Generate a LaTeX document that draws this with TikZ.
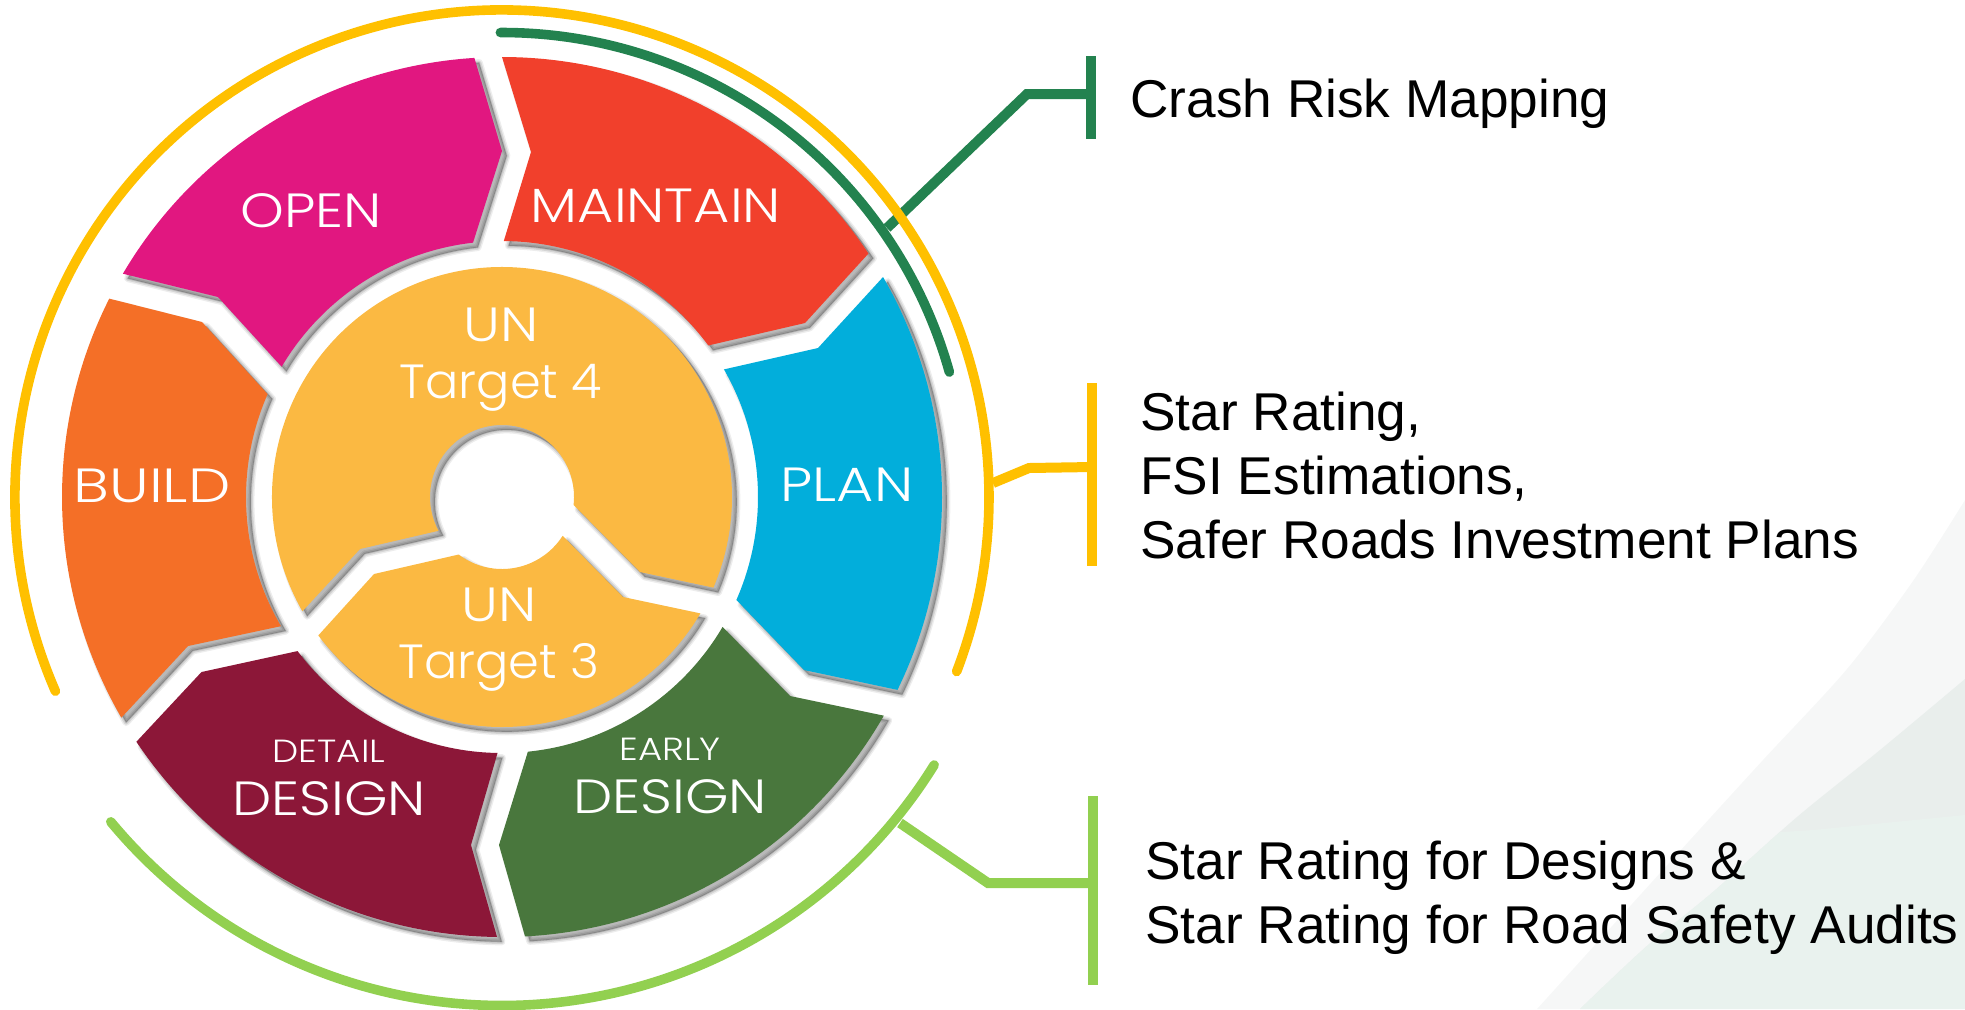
\documentclass[tikz,border=0pt]{standalone}
\usepackage{fontspec}
\setmainfont{Liberation Sans}
\newfontfamily\mont[FakeStretch=1.16]{Poppins Light}
\newfontfamily\montwide[FakeStretch=1.25]{Poppins Light}
\newfontfamily\montmid[FakeStretch=1.19]{Poppins Light}
\newfontfamily\monttarget[FakeStretch=1.03]{Poppins Light}
\usetikzlibrary{calc}
\definecolor{cYel}{HTML}{FFC000}
\definecolor{cDk}{HTML}{23824F}
\definecolor{cLime}{HTML}{92D050}
\definecolor{cMaintain}{HTML}{F1402C}
\definecolor{cPlan}{HTML}{02AEDB}
\definecolor{cEarly}{HTML}{49773D}
\definecolor{cDetail}{HTML}{8C1738}
\definecolor{cBuild}{HTML}{F46F27}
\definecolor{cOpen}{HTML}{E11780}
\definecolor{cUN}{HTML}{FBB942}
\definecolor{cBgA}{HTML}{F6F7F7}
\definecolor{cBgB}{HTML}{E9EEEC}
\definecolor{cBgC}{HTML}{E9F2EE}
\tikzset{
  softshadow/.style={
    preaction={draw=black,line join=round,line width=3.6pt,fill=black,opacity=.07,transform canvas={shift={(2.4pt,-2.4pt)}}},
    preaction={draw=black,line join=round,line width=2.2pt,fill=black,opacity=.10,transform canvas={shift={(2.4pt,-2.4pt)}}},
    preaction={draw=black,line join=round,line width=.8pt,fill=black,opacity=.13,transform canvas={shift={(2.4pt,-2.4pt)}}}},
  seg/.style={softshadow,fill=#1},
  ringline/.style={draw=#1,line width=4.8pt,line cap=round},
  linkline/.style={draw=#1,line width=5pt,line join=miter},
  barline/.style={draw=#1,line width=5pt},
  lab/.style={text=white,font=\mont\fontsize{24}{24}\selectfont,anchor=base,inner sep=0pt},
  note/.style={text=black,font=\fontsize{26.6}{32}\selectfont,anchor=base west,inner sep=0pt,align=left},
}
\begin{document}
\begin{tikzpicture}[x=0.5pt,y=-0.5pt]
\useasboundingbox (0,0) rectangle (1965,1009);
\coordinate (C) at (502,497);
% background shapes
\fill[cBgA] plot[smooth] coordinates {(1965,500) (1913,581) (1847,669) (1763,760) (1680,851) (1613,925) (1537,1009)} -- (1965,1009) -- cycle;
\begin{scope}
\clip plot[smooth] coordinates {(1965,679) (1880,750) (1797,817) (1713,892) (1647,946) (1580,1009)} -- (1965,1009) -- cycle;
\fill[cBgB] (1500,600) rectangle (1965,1009);
\fill[cBgC] (1500,850) -- (1813,830) -- (1965,815) -- (1965,1009) -- (1500,1009) -- cycle;
\end{scope}
% segments
\path[seg=cMaintain] ($(C)+(-90:440)$) arc[start angle=-90,end angle=-33.6,radius=440] -- (805,323) -- ($(C)+(-36.3:256)$) arc[start angle=-36.3,end angle=-89.6,radius=256] -- (531,152) -- cycle;
\path[seg=cPlan] ($(C)+(-30:440)$) arc[start angle=-30,end angle=26,radius=440] -- (804,670) -- ($(C)+(23.7:256)$) arc[start angle=23.7,end angle=-29.9,radius=256] -- (818,348) -- cycle;
\path[seg=cEarly] ($(C)+(29.8:440)$) arc[start angle=29.8,end angle=87,radius=440] -- (499,845) -- ($(C)+(84.2:256)$) arc[start angle=84.2,end angle=30.5,radius=256] -- (790,696) -- cycle;
\path[seg=cDetail] ($(C)+(90.65:440)$) arc[start angle=90.65,end angle=146.2,radius=440] -- (201.5,672) -- ($(C)+(143:256)$) arc[start angle=143,end angle=91,radius=256] -- (471,845) -- cycle;
\path[seg=cBuild] ($(C)+(149.9:440)$) arc[start angle=149.9,end angle=206.8,radius=440] -- (202,322) -- ($(C)+(203.7:256)$) arc[start angle=203.7,end angle=149.7,radius=256] -- (188,646) -- cycle;
\path[seg=cOpen] ($(C)+(210.5:440)$) arc[start angle=210.5,end angle=266.4,radius=440] -- (502,151) -- ($(C)+(263.5:256)$) arc[start angle=263.5,end angle=210.6,radius=256] -- (218,297) -- cycle;
\path[seg=cUN] ($(C)+(150.2:230)$) arc[start angle=150.2,end angle=383.2,radius=230] -- (640,572) -- ($(C)+(6.3:72)$) arc[start angle=6.3,end angle=-208,radius=72] -- (360,549) -- cycle;
\path[seg=cUN] ($(C)+(30.4:230)$) arc[start angle=30.4,end angle=143,radius=230] -- (374,574) -- ($(C)+(127:72)$) arc[start angle=127,end angle=32.6,radius=72] -- (623,597) -- cycle;
% labels
\node[lab] (open) at (311,227) {OPEN};
\node[lab] (maintain) at (656,222) {MAINTAIN};
\node[lab,font=\montwide\fontsize{24}{24}\selectfont] (build) at (152,502) {BUILD};
\node[lab,font=\montmid\fontsize{24}{24}\selectfont] (plan) at (847,501) {PLAN};
\node[lab,align=center] (t4) at (501,398) {UN\\[4.5pt]\monttarget\fontsize{24}{24}\selectfont Target 4};
\node[lab,align=center] (t3) at (499,678) {UN\\[4.5pt]\monttarget\fontsize{24}{24}\selectfont Target 3};
\node[lab,align=center] (detail) at (329,815) {\fontsize{16}{16}\selectfont DETAIL\\[2.5pt]DESIGN};
\node[lab,align=center] (early) at (670,813) {\fontsize{16}{16}\selectfont EARLY\\[2.5pt]DESIGN};
% connectors
\coordinate (dkS) at ($(C)+(-90.2:464.5)$);
\coordinate (dkJ) at (887,228);
\coordinate (dkE) at (1027,94);
\coordinate (dkT) at (1091,56);
\coordinate (dkB) at (1091,139);
\coordinate (dkM) at (1091,94);
\draw[ringline=cDk] (dkS) arc[start angle=-90.2,end angle=-15.6,radius=464.5];
\draw[linkline=cDk] (dkJ) -- (dkE) -- (dkM);
\draw[barline=cDk] (dkT) -- (dkB);
\coordinate (yeS) at ($(C)+(156.5:487)$);
\coordinate (yeJ) at (993,483);
\coordinate (yeE) at (1029,468);
\coordinate (yeT) at (1092,383);
\coordinate (yeB) at (1092,566);
\coordinate (yeM) at (1092,467);
\draw[ringline=cYel] (yeS) arc[start angle=156.5,end angle=381,radius=487];
\draw[linkline=cYel] (yeJ) -- (yeE) -- (yeM);
\draw[barline=cYel] (yeT) -- (yeB);
\coordinate (liS) at ($(C)+(140.3:508.5)$);
\coordinate (liJ) at (900,823);
\coordinate (liE) at (988,883);
\coordinate (liT) at (1093,796);
\coordinate (liB) at (1093,985);
\coordinate (liM) at (1093,883);
\draw[ringline=cLime] (liS) arc[start angle=140.3,end angle=31.8,radius=508.5];
\draw[linkline=cLime] (liJ) -- (liE) -- (liM);
\draw[barline=cLime] (liT) -- (liB);
% notes
\node[note] (crash) at (1130,117) {Crash Risk Mapping};
\node[note] (star) at (1140,558) {Star Rating,\\FSI Estimations,\\Safer Roads Investment Plans};
\node[note] (audit) at (1145,943) {Star Rating for Designs \&\\Star Rating for Road Safety Audits};
\end{tikzpicture}
\end{document}
